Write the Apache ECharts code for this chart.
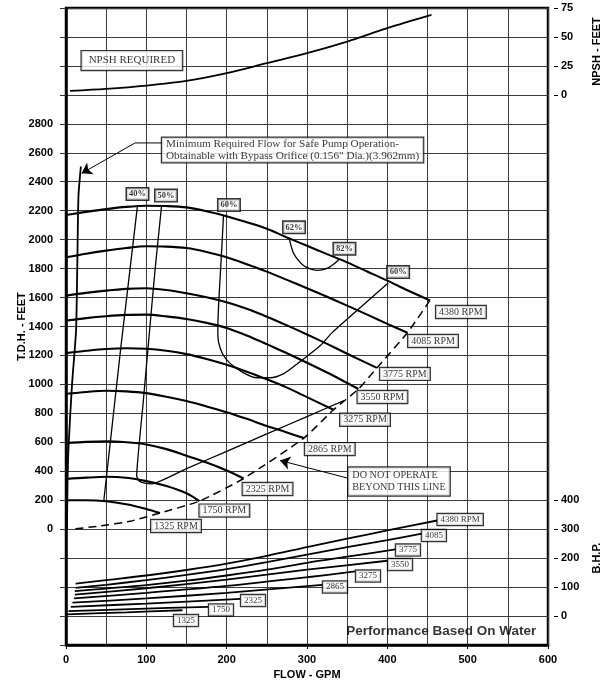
<!DOCTYPE html>
<html><head><meta charset="utf-8">
<script src="https://cdn.jsdelivr.net/npm/echarts@6.0.0/dist/echarts.min.js"></script>
<style>html,body{margin:0;padding:0;background:#fff}#c{width:609px;height:681px}</style>
</head><body><div id="c"></div>
<script>
// ---------------- DATA ----------------
const flowTicks = [0, 100, 200, 300, 400, 500, 600];
const tdhTicks = [0, 200, 400, 600, 800, 1000, 1200, 1400, 1600, 1800, 2000, 2200, 2400, 2600, 2800];
const npshTicks = [0, 25, 50, 75];
const bhpTicks = [0, 100, 200, 300, 400];

const rpmNames = ['4380', '4085', '3775', '3550', '3275', '2865', '2325', '1750', '1325'];

const npshRequired = [[5,3.5],[50,5.2],[100,8],[150,12],[200,18.7],[250,27.4],[300,36],[350,46],[400,57.6],[455,69]];

const head4380 = [[0,2170],[25,2192],[50,2211],[75,2226],[100,2234],[125,2232],[150,2223],[175,2196],[200,2162],[225,2120],[250,2075],[275,2015],[300,1958],[325,1900],[350,1843],[375,1780],[400,1717],[425,1650],[453,1580]];
const head4085 = [[0,1878],[25,1903],[50,1924],[75,1942],[100,1954],[125,1952],[150,1942],[175,1915],[200,1878],[225,1830],[250,1779],[275,1722],[300,1664],[325,1605],[350,1544],[375,1482],[400,1418],[425,1357]];
const head3775 = [[0,1613],[25,1632],[50,1648],[75,1660],[100,1664],[125,1652],[150,1630],[175,1602],[200,1567],[225,1522],[250,1468],[275,1408],[300,1345],[325,1280],[350,1212],[387,1114]];
const head3550 = [[0,1441],[25,1458],[50,1471],[75,1480],[100,1482],[125,1470],[150,1452],[175,1425],[200,1390],[225,1338],[250,1278],[275,1215],[300,1150],[325,1082],[364,968]];
const head3275 = [[0,1216],[25,1232],[50,1245],[75,1250],[100,1246],[125,1232],[150,1209],[175,1175],[200,1135],[225,1088],[250,1035],[275,978],[300,912],[333,825]];
const head2865 = [[0,935],[25,948],[50,956],[75,952],[100,940],[125,915],[150,885],[175,848],[200,808],[225,762],[250,712],[275,668],[296,629]];
const head2325 = [[0,595],[25,603],[50,607],[75,600],[100,585],[125,553],[150,507],[175,460],[200,405],[221,350]];
const head1750 = [[0,347],[25,356],[50,362],[75,355],[100,332],[125,298],[150,248],[166,194]];
const head1325 = [[0,200],[25,200],[50,193],[75,172],[100,140],[117,112]];

const eff40 = [[89,2235],[68.5,1268],[47,193]];
const eff50 = [[119,2235],[111,1800],[104,1369],[96,870],[88,365],[91,333],[98,318],[107,313],[150,418],[200,538],[250,658],[300,778],[346,888]];
const eff60 = [[196,2163],[194,1950],[192,1750],[190,1550],[189,1380],[190,1290],[195,1210],[204,1147],[221,1080],[238,1046],[254,1046],[271,1075],[290,1152],[317,1270],[331,1356],[360,1500],[401,1700]];
const eff62 = [[278,2009],[280,1960],[283,1910],[289,1858],[296,1820],[304,1798],[312,1788],[320,1793],[328,1810],[335,1838],[340,1864]];
const effLabelText = ['40%', '50%', '60%', '62%', '82%', '60%'];

const operatingLimit = [[453,1580],[425,1357],[387,1114],[364,968],[333,825],[296,629],[221,350],[166,194],[117,112],[80,55],[42,22],[8,0]];
const minFlowLine = [[18.5,2505],[15.5,2300],[14,1800],[12.5,1370],[7.5,1000],[3.3,585],[2,350],[1.2,0]];

const bhp4380 = [[12,112],[50,124],[100,140],[150,159],[200,181],[250,208],[300,238],[350,267],[400,296],[462,330]];
const bhp4085 = [[12,97],[50,108],[100,124],[150,142],[200,162],[250,186],[300,212],[350,238],[400,262],[443,285]];
const bhp3775 = [[11,86],[50,95],[100,107],[150,122],[200,140],[250,160],[300,184],[350,205],[410,230]];
const bhp3550 = [[11,74],[100,96],[200,126],[300,160],[400,191]];
const bhp3275 = [[10,61],[100,80],[200,104],[300,134],[360,154]];
const bhp2865 = [[8,46],[100,61],[200,80],[319,108]];
const bhp2325 = [[6,32],[100,43],[217,59]];
const bhp1750 = [[3,17],[90,25],[177,32]];
const bhp1325 = [[1,6],[75,13],[145,20]];
const bhpLabelText = ['4380 RPM', '4085', '3775', '3550', '3275', '2865', '2325', '1750', '1325'];

const minFlowLeader = [[119.5,2668],[86,2668]];
const minFlowArrow = [[86,2668],[19.5,2458]];
const limitArrow = [[351.4,351.6],[266.4,474.5]];
const minFlowNote = 'Minimum Required Flow for Safe Pump Operation-\nObtainable with Bypass Orifice (0.156" Dia.)(3.962mm)';
const minFlowNoteAt = [119.5, 2619];
const limitNote = 'DO NOT OPERATE\nBEYOND THIS LINE';
const limitNoteAt = [351.4, 329];
const npshNote = 'NPSH REQUIRED';
const npshNoteAt = [82, 29.6];
const waterNote = 'Performance Based On Water';
const waterNoteAt = [467, -703];

// ---------------- STYLE / LAYOUT ----------------
const headCurves = [head4380, head4085, head3775, head3550, head3275, head2865, head2325, head1750, head1325];
const bhpCurves = [bhp4380, bhp4085, bhp3775, bhp3550, bhp3275, bhp2865, bhp2325, bhp1750, bhp1325];
const headLabelShift = [[31,11.5],[25.6,8.3],[28,6],[24,8],[31.5,10],[26,11],[24,10.5],[25,9.5],[16,13]];
const bhpLabelShift = [[23,-1],[12,2],[12.6,0.6],[12.7,3.8],[12.8,4.6],[12.7,2.2],[12.7,1.6],[12.8,3.2],[3.5,10.3]];
const effLabelShift = [[0,-11.6],[4.4,-10],[5.5,-11],[4.7,-11],[5.3,-10.6],[10,-11]];

const PLOT = { left: 66, top: 8, width: 482, height: 637 };
const rowH = PLOT.height / 22;

const axisFont = { fontFamily: 'Liberation Sans', fontWeight: 'bold', fontSize: 11, color: '#000' };
const gridLine = { color: '#3c3c3c', width: 1 };
const serif = 'Liberation Serif';
const last = a => a[a.length - 1];

function boxLabel(text, size, shift, extra) {
  return Object.assign({
    show: true, position: 'inside', formatter: text, offset: shift || [0, 0],
    fontFamily: serif, fontSize: size, color: '#000', backgroundColor: '#fff',
    borderColor: '#000', borderWidth: 1.2, padding: [1, 3]
  }, extra || {});
}

const chart = echarts.init(document.getElementById('c'), null, { renderer: 'canvas' });

const series = [];
function line(data, grid, width, extra) {
  series.push(Object.assign({
    type: 'line', data: data, xAxisIndex: grid, yAxisIndex: grid,
    showSymbol: false, symbol: 'none', smooth: 0.3, silent: true,
    lineStyle: { color: '#000', width: width }, z: 3
  }, extra || {}));
}

line(npshRequired, 1, 1.8);
headCurves.forEach(c => line(c, 0, 2.1));
line(eff40, 0, 1.3, { smooth: false });
line(eff50, 0, 1.3, { smooth: 0.15 });
line(eff60, 0, 1.3, { smooth: 0.3 });
line(eff62, 0, 1.3, { smooth: 0.3 });
line(operatingLimit, 0, 1.5, { smooth: 0.2, lineStyle: { color: '#000', width: 1.5, type: [8, 5] } });
line(minFlowLine, 0, 1.8, { smooth: 0.2 });
line(minFlowLeader, 0, 1, { smooth: false });
bhpCurves.forEach(c => line(c, 2, 1.8, { smooth: 0.3 }));

series.push({
  type: 'lines', coordinateSystem: 'cartesian2d', xAxisIndex: 0, yAxisIndex: 0,
  silent: true, symbol: ['none', 'arrow'], symbolSize: 10,
  lineStyle: { color: '#000', width: 1, opacity: 1, curveness: 0 }, z: 4,
  data: [{ coords: minFlowArrow }, { coords: limitArrow }]
});

// annotations in TDH grid
const tdhNotes = [];
headCurves.forEach((c, i) => tdhNotes.push({ value: last(c), label: boxLabel(rpmNames[i] + ' RPM', 10, headLabelShift[i]) }));
const effAnchors = [eff40[0], eff50[0], eff60[0], eff62[0], last(eff62), last(eff60)];
effAnchors.forEach((p, i) => tdhNotes.push({ value: p, label: boxLabel(effLabelText[i], 8.5, effLabelShift[i], { fontWeight: 'bold', borderWidth: 1.5, padding: [1, 2] }) }));
tdhNotes.push({ value: minFlowNoteAt, label: boxLabel(minFlowNote, 11.2, [0, 0], { align: 'left', lineHeight: 11.2, padding: [1, 4] }) });
tdhNotes.push({ value: limitNoteAt, label: boxLabel(limitNote, 10.2, [0, 0], { align: 'left', lineHeight: 12, padding: [2, 4] }) });
tdhNotes.push({ value: waterNoteAt, label: { show: true, position: 'inside', formatter: waterNote, fontFamily: 'Liberation Sans', fontWeight: 'bold', fontSize: 13.5, color: '#000' } });

function notes(data, grid) {
  series.push({
    type: 'scatter', xAxisIndex: grid, yAxisIndex: grid, data: data, symbolSize: 1,
    itemStyle: { color: 'rgba(0,0,0,0)' }, silent: true, clip: false, z: 10
  });
}
notes(tdhNotes, 0);
notes([{ value: npshNoteAt, label: boxLabel(npshNote, 11, [0, 0], { padding: [4, 7] }) }], 1);
notes(bhpCurves.map((c, i) => ({ value: last(c), label: boxLabel(bhpLabelText[i], 9, bhpLabelShift[i], { padding: [1, 3] }) })), 2);

function hiddenX(g) {
  return { gridIndex: g, type: 'value', min: 0, max: 600, show: false };
}
function rightY(g, min, max, step, ticks, name) {
  return {
    gridIndex: g, type: 'value', position: 'right', offset: 6, min: min, max: max, interval: step,
    axisLine: { show: false, onZero: false }, axisTick: { show: true, length: 4, lineStyle: { color: '#000', width: 1 } },
    axisLabel: Object.assign({}, axisFont, { margin: 7, formatter: v => ticks.includes(v) ? String(v) : '' }),
    splitLine: { show: false },
    name: name, nameLocation: 'middle', nameRotate: 90, nameGap: 37, nameMoveOverlap: false, nameTextStyle: axisFont
  };
}

const gridBase = { left: PLOT.left, width: PLOT.width, outerBoundsMode: 'none', containLabel: false };

chart.setOption({
  animation: false,
  backgroundColor: '#fff',
  grid: [
    Object.assign({}, gridBase, { top: PLOT.top, height: PLOT.height, show: true, borderColor: '#000', borderWidth: 2.5, backgroundColor: 'transparent' }),
    Object.assign({}, gridBase, { top: PLOT.top, height: 3 * rowH }),
    Object.assign({}, gridBase, { top: PLOT.top + 17 * rowH, height: 4 * rowH })
  ],
  xAxis: [
    {
      gridIndex: 0, type: 'value', min: 0, max: 600, interval: 100, position: 'bottom',
      axisLine: { show: true, onZero: false, lineStyle: { color: '#000', width: 2.5 } },
      axisTick: { show: true, length: 4, lineStyle: { color: '#000' } },
      axisLabel: Object.assign({}, axisFont, { margin: 9, formatter: v => flowTicks.includes(v) ? String(v) : '' }),
      splitLine: { show: true, lineStyle: gridLine },
      minorTick: { show: false, splitNumber: 2 },
      minorSplitLine: { show: true, lineStyle: gridLine },
      name: 'FLOW - GPM', nameLocation: 'middle', nameGap: 24, nameMoveOverlap: false, nameTextStyle: axisFont
    },
    hiddenX(1), hiddenX(2)
  ],
  yAxis: [
    {
      gridIndex: 0, type: 'value', position: 'left', min: -800, max: 3600, interval: 200,
      axisLine: { show: true, onZero: false, lineStyle: { color: '#000', width: 2.5 } },
      axisTick: { show: true, length: 6, lineStyle: { color: '#333' } },
      axisLabel: Object.assign({}, axisFont, { margin: 13, formatter: v => tdhTicks.includes(v) ? String(v) : '' }),
      splitLine: { show: true, lineStyle: gridLine },
      name: 'T.D.H. - FEET', nameLocation: 'middle', nameRotate: 90, nameGap: 39, nameMoveOverlap: false, nameTextStyle: axisFont
    },
    rightY(1, 0, 75, 25, npshTicks, 'NPSH - FEET'),
    rightY(2, 0, 400, 100, bhpTicks, 'B.H.P.')
  ],
  series: series
});
</script></body></html>
